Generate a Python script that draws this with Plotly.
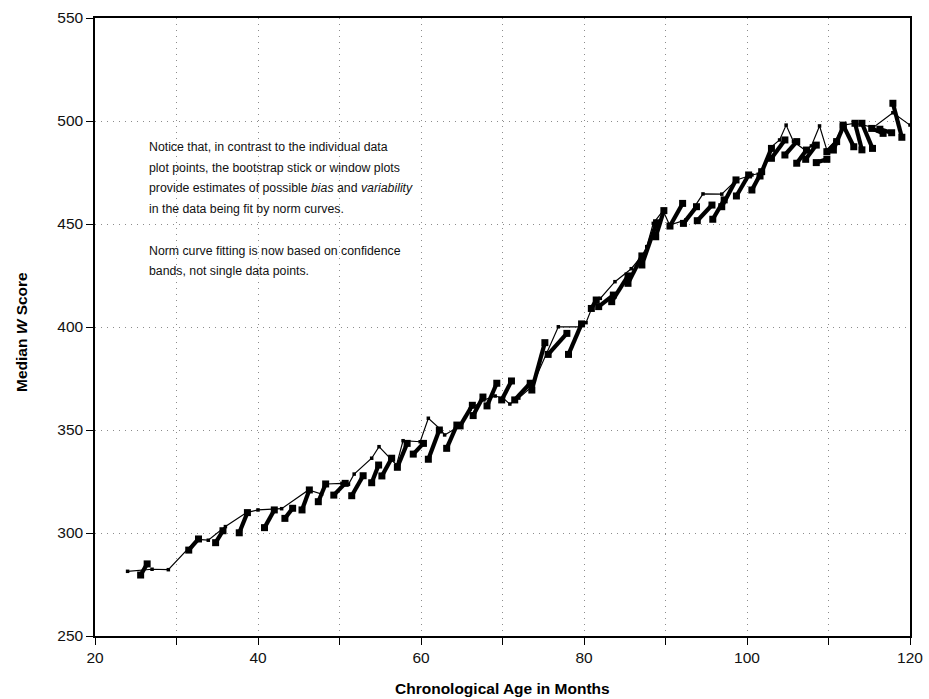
import plotly.graph_objects as go

# Individual data points (thin line)
point_age = [24.0, 27.0, 29.0, 32.5, 33.9, 36.0, 38.6, 40.0, 42.9, 46.2, 47.8, 48.4,
             50.3, 51.1, 51.8, 53.95, 54.85, 56.2, 57.0, 57.8, 59.9, 60.9, 62.4, 62.9,
             64.6, 66.0, 67.7, 69.1, 70.1, 70.9, 72.0, 73.6, 76.85, 79.5, 80.25, 81.35,
             82.0, 83.8, 85.8, 87.1, 87.7, 88.5, 89.7, 90.5, 92.5, 94.6, 96.9, 98.7,
             100.6, 101.6, 103.0, 104.0, 104.8, 105.7, 107.1, 107.9, 108.9, 109.8, 110.8,
             111.8, 113.25, 115.5, 117.9, 120.0]
point_w = [281.4, 282.4, 282.2, 296.9, 296.5, 303.1, 309.9, 311.2, 311.8, 320.9, 318.9, 323.8,
           324.1, 323.6, 328.6, 336.3, 341.9, 336.3, 333.0, 344.8, 344.3, 355.7, 350.3, 347.6,
           351.6, 360.0, 364.6, 366.5, 365.4, 362.6, 365.5, 371.0, 400.1, 400.1, 402.1, 413.1,
           413.9, 422.0, 428.3, 434.5, 439.0, 450.3, 456.5, 449.5, 452.0, 464.6, 464.5, 471.4,
           473.8, 474.6, 487.5, 490.8, 498.0, 490.0, 485.9, 487.9, 497.6, 485.9, 490.0,
           498.0, 498.9, 496.9, 504.0, 498.0]

# Bootstrap sticks (start / end of each window)
stick_age0 = [25.6, 31.5, 34.8, 37.7, 40.8, 43.3, 45.4, 47.4, 49.3, 51.5, 53.95, 55.2, 57.1,
              59.05, 60.9, 63.15, 64.8, 66.4, 68.1, 69.9, 71.5, 73.6, 75.6, 78.1, 80.9, 81.8,
              83.4, 85.4, 87.1, 88.8, 90.55, 92.2, 93.9, 95.8, 96.9, 98.7, 100.6, 101.6, 103.0,
              104.65, 106.1, 107.2, 108.5, 109.8, 110.6, 111.8, 113.25, 114.1, 115.3, 116.3, 117.9]
stick_w0 = [279.6, 291.7, 295.3, 300.1, 302.6, 307.1, 311.2, 315.2, 318.4, 318.1, 324.4, 327.7, 331.9,
            338.3, 335.8, 341.1, 352.0, 357.0, 361.7, 364.6, 364.6, 369.4, 386.7, 386.7, 409.0, 409.9,
            412.3, 421.2, 430.1, 443.8, 449.0, 450.3, 451.6, 452.3, 458.4, 463.6, 466.5, 473.3, 481.9,
            483.5, 479.5, 481.4, 479.8, 485.1, 485.9, 498.0, 498.9, 498.9, 496.4, 496.0, 508.6]
stick_age1 = [26.4, 32.7, 35.7, 38.7, 42.0, 44.25, 46.3, 48.3, 50.7, 52.9, 54.8, 56.4, 58.3,
              60.3, 62.25, 64.4, 66.3, 67.6, 69.3, 71.1, 73.4, 75.2, 77.9, 79.7, 81.5, 83.6,
              85.4, 87.1, 88.9, 89.8, 92.1, 93.8, 95.7, 97.2, 98.65, 100.2, 101.8, 103.0, 104.65,
              106.1, 107.3, 108.5, 109.8, 111.0, 111.8, 113.1, 114.1, 115.4, 116.7, 117.75, 119.0]
stick_w1 = [285.0, 297.1, 301.1, 309.9, 311.2, 312.0, 320.9, 323.8, 324.1, 327.8, 333.0, 336.3, 343.5,
            343.5, 350.0, 352.4, 362.0, 366.0, 372.7, 373.8, 372.7, 392.4, 396.9, 401.5, 413.1, 415.5,
            424.8, 434.5, 450.6, 456.5, 460.0, 458.4, 459.2, 461.7, 471.4, 473.8, 475.4, 486.7, 490.8,
            490.0, 485.9, 488.3, 481.4, 490.0, 497.2, 487.5, 486.0, 486.7, 494.0, 494.3, 492.1]

x_ticks = [20, 30, 40, 50, 60, 70, 80, 90, 100, 110, 120]
x_ticklabels = ["20", "", "40", "", "60", "", "80", "", "100", "", "120"]
y_ticks = [250, 300, 350, 400, 450, 500, 550]

note_lines = [
    "Notice that, in contrast to the individual data",
    "plot points, the bootstrap stick or window plots",
    "provide estimates of possible <i>bias</i> and <i>variability</i>",
    "in the data being fit by norm curves.",
    "",
    "Norm curve fitting is now based on confidence",
    "bands, not single data points.",
]

FONT = "Liberation Sans, Arial, sans-serif"

sx, sy = [], []
for a0, w0, a1, w1 in zip(stick_age0, stick_w0, stick_age1, stick_w1):
    sx += [a0, a1, None]
    sy += [w0, w1, None]

fig = go.Figure()
fig.add_trace(go.Scatter(x=point_age, y=point_w, mode="lines+markers",
                         line=dict(color="black", width=1.2),
                         marker=dict(symbol="square", size=3.5, color="black"),
                         showlegend=False, hoverinfo="skip"))
fig.add_trace(go.Scatter(x=sx, y=sy, mode="lines+markers",
                         line=dict(color="black", width=4.2),
                         marker=dict(symbol="square", size=7, color="black"),
                         showlegend=False, connectgaps=False, hoverinfo="skip"))

W_FIG, H_FIG = 929, 699
L, R, T, B = 95, 19, 18, 63
W_plot = W_FIG - L - R
H_plot = H_FIG - T - B
for i, txt in enumerate(note_lines):
    if not txt:
        continue
    ypx = 147 + i * 20.7
    fig.add_annotation(text=txt, xref="paper", yref="paper",
                       x=(147 - L) / W_plot, y=(H_FIG - B - ypx) / H_plot,
                       xanchor="left", yanchor="middle", showarrow=False,
                       font=dict(family=FONT, size=12.3, color="#111"))

fig.add_annotation(text="<b>Chronological Age in Months</b>", xref="paper", yref="paper",
                   x=0.5, y=(H_FIG - B - 688) / H_plot, xanchor="center", yanchor="middle",
                   showarrow=False, font=dict(family=FONT, size=15.5, color="black"))
fig.add_annotation(text="<b>Median <i>W</i> Score</b>", xref="paper", yref="paper",
                   x=(21 - L) / W_plot, y=(H_FIG - B - 332) / H_plot,
                   xanchor="center", yanchor="middle",
                   textangle=-90, showarrow=False,
                   font=dict(family=FONT, size=15.5, color="black"))

grid = dict(showgrid=True, gridcolor="#8c8c8c", griddash="1px,5px", gridwidth=1,
            showline=True, linecolor="black", linewidth=1.5, mirror=True,
            ticks="outside", ticklen=7, tickcolor="black", tickwidth=1, zeroline=False,
            tickfont=dict(family=FONT, size=15.5, color="#111"))

fig.update_layout(
    width=W_FIG, height=H_FIG,
    margin=dict(l=L, r=R, t=T, b=B, autoexpand=False),
    paper_bgcolor="white", plot_bgcolor="white",
    font=dict(family=FONT, size=15, color="black"),
    xaxis=dict(range=[20, 120], tickvals=x_ticks, ticktext=x_ticklabels, **grid),
    yaxis=dict(range=[250, 550], tickvals=y_ticks, **grid),
)

fig.write_html("out.html", config={"displayModeBar": False},
               post_script="document.body.style.margin='0';document.body.style.padding='0';")
